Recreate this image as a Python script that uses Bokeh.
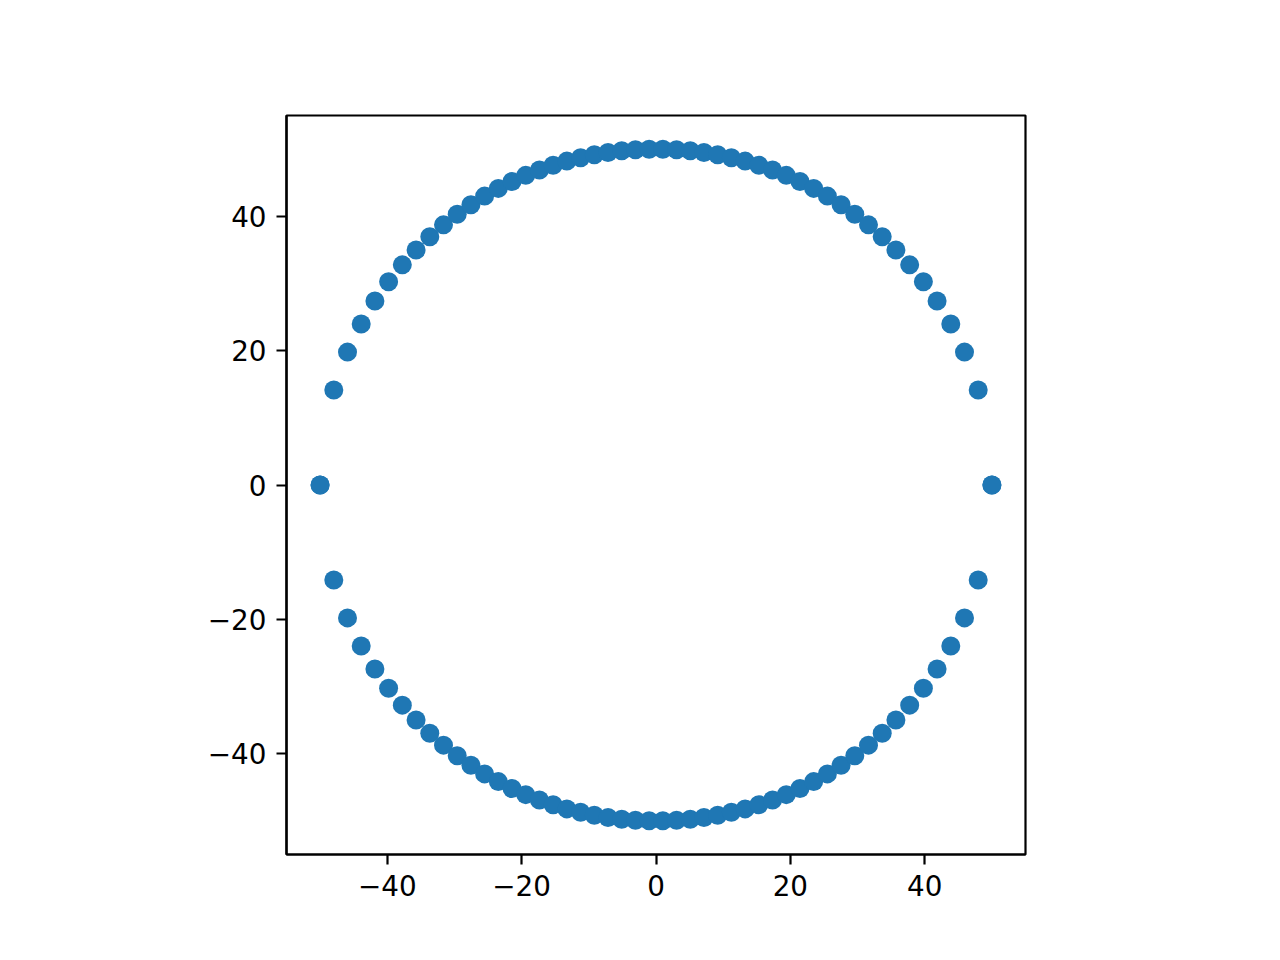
from bokeh.plotting import figure
from bokeh.models import Range1d, FixedTicker, ColumnDataSource
from bokeh.embed import file_html
from bokeh.resources import INLINE

# x positions of the points (left to right)
x_vals = [-50.00, -47.96, -45.92, -43.88, -41.84, -39.80, -37.76, -35.71, -33.67, -31.63,
          -29.59, -27.55, -25.51, -23.47, -21.43, -19.39, -17.35, -15.31, -13.27, -11.22,
          -9.18, -7.14, -5.10, -3.06, -1.02, 1.02, 3.06, 5.10, 7.14, 9.18,
          11.22, 13.27, 15.31, 17.35, 19.39, 21.43, 23.47, 25.51, 27.55, 29.59,
          31.63, 33.67, 35.71, 37.76, 39.80, 41.84, 43.88, 45.92, 47.96, 50.00]
# upper half y values
y_upper = [0.00, 14.14, 19.78, 23.97, 27.38, 30.26, 32.77, 34.99, 36.96, 38.72,
           40.30, 41.72, 43.00, 44.15, 45.18, 46.09, 46.89, 47.60, 48.21, 48.72,
           49.15, 49.49, 49.74, 49.91, 49.99, 49.99, 49.91, 49.74, 49.49, 49.15,
           48.72, 48.21, 47.60, 46.89, 46.09, 45.18, 44.15, 43.00, 41.72, 40.30,
           38.72, 36.96, 34.99, 32.77, 30.26, 27.38, 23.97, 19.78, 14.14, 0.00]
# lower half y values
y_lower = [-0.00, -14.14, -19.78, -23.97, -27.38, -30.26, -32.77, -34.99, -36.96, -38.72,
           -40.30, -41.72, -43.00, -44.15, -45.18, -46.09, -46.89, -47.60, -48.21, -48.72,
           -49.15, -49.49, -49.74, -49.91, -49.99, -49.99, -49.91, -49.74, -49.49, -49.15,
           -48.72, -48.21, -47.60, -46.89, -46.09, -45.18, -44.15, -43.00, -41.72, -40.30,
           -38.72, -36.96, -34.99, -32.77, -30.26, -27.38, -23.97, -19.78, -14.14, -0.00]

tick_values = [-40, -20, 0, 20, 40]
tick_labels = ["\u221240", "\u221220", "0", "20", "40"]

src = ColumnDataSource(dict(x=x_vals + x_vals, y=y_upper + y_lower))

p = figure(output_backend="svg", toolbar_location=None,
           frame_width=739, frame_height=739,
           min_border_left=286, min_border_top=115,
           min_border_right=230, min_border_bottom=80,
           x_range=Range1d(-55, 55), y_range=Range1d(-55, 55),
           background_fill_color="white", border_fill_color="white")

p.scatter("x", "y", source=src, size=19, color="#1f77b4", line_width=0)

p.grid.visible = False
p.outline_line_color = "black"
p.outline_line_width = 2.2
p.outline_line_alpha = 1.0

for ax in (p.xaxis[0], p.yaxis[0]):
    ax.ticker = FixedTicker(ticks=tick_values)
    ax.major_label_overrides = {v: l for v, l in zip(tick_values, tick_labels)}
    ax.major_label_text_font = "DejaVu Sans"
    ax.major_label_text_font_size = "27.8px"
    ax.major_label_text_color = "black"
    ax.major_tick_in = 0
    ax.major_tick_out = 10
    ax.major_tick_line_width = 2.2
    ax.major_tick_line_color = "black"
    ax.minor_tick_line_color = None
    ax.axis_line_color = "black"
    ax.axis_line_width = 2.2
    ax.major_label_standoff = 10

open("out.html", "w").write(file_html(p, INLINE))
